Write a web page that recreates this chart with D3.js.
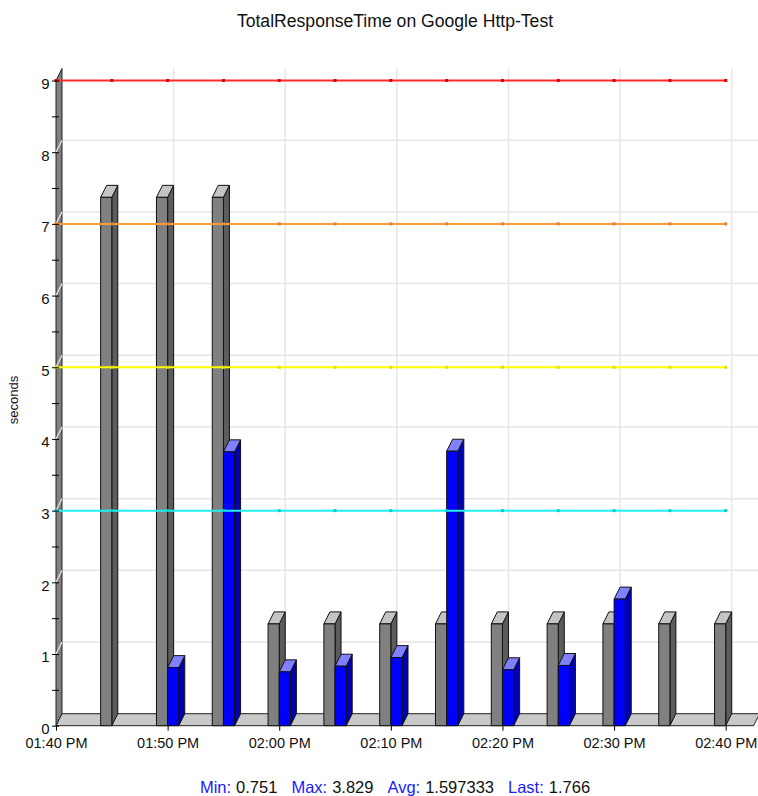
<!DOCTYPE html>
<html>
<head>
<meta charset="utf-8">
<script src="https://cdn.jsdelivr.net/npm/d3@7"></script>
<style>
  html, body { margin: 0; padding: 0; background: #fff; }
  svg { display: block; font-family: "Liberation Sans", Arial, sans-serif; }
</style>
</head>
<body>
<svg id="chart" width="758" height="796"></svg>
<script>
// Sample times (HH:MM, 24h) for each bar pair
const sampleTimes = ["13:45", "13:50", "13:55", "14:00", "14:05", "14:10",
                     "14:15", "14:20", "14:25", "14:30", "14:35", "14:40"];
// Grey series (left bar of each pair), seconds
const greyValues = [7.37, 7.37, 7.37, 1.42, 1.42, 1.42, 1.42, 1.42, 1.42, 1.42, 1.42, 1.42];
// Blue series: TotalResponseTime, seconds (null = no sample)
const blueValues = [null, 0.81, 3.82, 0.751, 0.83, 0.95, 3.829, 0.78, 0.84, 1.766, null, null];
// Threshold lines
const thresholdValues = [9, 7, 5, 3];
const thresholdColors = ["#ff2a2a", "#ff9a3c", "#ffff00", "#22f0f0"];
const thresholdDotColors = ["#e00000", "#f08020", "#e0e000", "#00d0d0"];
// Axis range
const timeStart = "13:40", timeEnd = "14:40";
const yMax = 9;
// Summary footer
const statLabels = ["Min:", "Max:", "Avg:", "Last:"];
const statValues = ["0.751", "3.829", "1.597333", "1.766"];

const parse = d3.timeParse("%H:%M");
const t0 = parse(timeStart), t1 = parse(timeEnd);

const svg = d3.select("#chart");
const DX = 6, DY = -12;   // depth offset of the 3D back plane

const x = d3.scaleTime().domain([t0, t1]).range([56, 725.7]);
const y = d3.scaleLinear().domain([0, yMax]).range([725.7, 80.5]);
const xEnd = x(d3.timeSecond.offset(t1, 150));  // floor runs a little past the last tick

// Title
svg.append("text")
  .attr("x", 395).attr("y", 26.5)
  .attr("text-anchor", "middle")
  .attr("font-size", 17.6)
  .attr("fill", "#111")
  .text("TotalResponseTime on Google Http-Test");

// Back-plane grid
const grid = svg.append("g").attr("stroke", "#e6e6e6").attr("stroke-width", 1.5);
grid.selectAll("line.h")
  .data(d3.range(1, yMax))
  .join("line")
  .attr("x1", x(t0) + DX).attr("x2", 760)
  .attr("y1", d => y(d) + DY).attr("y2", d => y(d) + DY);
grid.selectAll("line.v")
  .data(d3.timeMinute.every(10).range(d3.timeMinute.offset(t0, 1), d3.timeMinute.offset(t1, 1)))
  .join("line")
  .attr("x1", d => x(d) + DX).attr("x2", d => x(d) + DX)
  .attr("y1", y(yMax) + DY).attr("y2", y(0) + DY);

// Left wall
svg.append("path")
  .attr("d", `M${x(t0)},${y(0)} L${x(t0)},${y(yMax)} L${x(t0) + DX},${y(yMax) + DY} L${x(t0) + DX},${y(0) + DY} Z`)
  .attr("fill", "#808080").attr("stroke", "#222").attr("stroke-width", 1);
svg.append("g").attr("stroke", "#e8e8e8").attr("stroke-width", 1.2)
  .selectAll("line")
  .data(d3.range(1, yMax))
  .join("line")
  .attr("x1", x(t0)).attr("y1", d => y(d))
  .attr("x2", x(t0) + DX).attr("y2", d => y(d) + DY);

// Floor
svg.append("path")
  .attr("d", `M${x(t0)},${y(0)} L${x(t0) + DX},${y(0) + DY} L${xEnd + DX},${y(0) + DY} L${xEnd},${y(0)} Z`)
  .attr("fill", "#c8c8c8").attr("stroke", "#222").attr("stroke-width", 1);

// 3D bars
const bars = [];
sampleTimes.forEach((s, i) => {
  const t = parse(s);
  bars.push({ a: d3.timeMinute.offset(t, -1), b: t, v: greyValues[i],
              front: "#808080", side: "#5c5c5c", top: "#c4c4c4" });
  if (blueValues[i] != null)
    bars.push({ a: t, b: d3.timeMinute.offset(t, 1), v: blueValues[i],
                front: "#0000ff", side: "#0000b4", top: "#8080ff" });
});
const barG = svg.append("g").attr("stroke", "#111").attr("stroke-width", 1).attr("stroke-linejoin", "round");
bars.forEach(d => {
  const xa = x(d.a), xb = x(d.b), yt = y(d.v), yb = y(0);
  const g = barG.append("g");
  g.append("path")
    .attr("d", `M${xb},${yt} L${xb + DX},${yt + DY} L${xb + DX},${yb + DY} L${xb},${yb} Z`)
    .attr("fill", d.side);
  g.append("path")
    .attr("d", `M${xa},${yt} L${xa + DX},${yt + DY} L${xb + DX},${yt + DY} L${xb},${yt} Z`)
    .attr("fill", d.top);
  g.append("rect")
    .attr("x", xa).attr("y", yt)
    .attr("width", xb - xa).attr("height", yb - yt)
    .attr("fill", d.front);
});

// Threshold lines with markers every 5 minutes
const markTimes = d3.timeMinute.every(5).range(t0, d3.timeMinute.offset(t1, 1));
thresholdValues.forEach((v, i) => {
  svg.append("line")
    .attr("x1", x(t0)).attr("x2", x(t1))
    .attr("y1", y(v)).attr("y2", y(v))
    .attr("stroke", thresholdColors[i]).attr("stroke-width", 2);
  svg.append("g").selectAll("rect")
    .data(markTimes)
    .join("rect")
    .attr("x", d => x(d) - 1.5).attr("y", y(v) - 1.5)
    .attr("width", 3).attr("height", 3)
    .attr("fill", thresholdDotColors[i]);
});

// Y axis
const yAxis = svg.append("g")
  .attr("transform", `translate(${x(t0)},0)`)
  .call(d3.axisLeft(y)
    .tickValues(d3.range(0, yMax + 0.01, 0.5))
    .tickFormat(d => Number.isInteger(d) ? d : "")
    .tickSize(4).tickPadding(2.5));
yAxis.select(".domain").remove();
yAxis.selectAll(".tick line").attr("x1", 3).attr("stroke", "#000");
yAxis.selectAll(".tick text")
  .attr("font-size", 15).attr("font-family", "Liberation Sans, Arial, sans-serif")
  .attr("fill", "#111").attr("dy", "0.52em");

// X axis
const xAxis = svg.append("g")
  .attr("transform", `translate(0,${y(0)})`)
  .call(d3.axisBottom(x)
    .ticks(d3.timeMinute.every(10))
    .tickFormat(d3.timeFormat("%I:%M %p"))
    .tickSize(5).tickPadding(7.5));
xAxis.select(".domain").remove();
xAxis.selectAll(".tick line").attr("stroke", "#000");
xAxis.selectAll(".tick text")
  .attr("font-size", 14.5).attr("font-family", "Liberation Sans, Arial, sans-serif")
  .attr("fill", "#111");

// Y axis title
svg.append("text")
  .attr("transform", "translate(18,400) rotate(-90)")
  .attr("text-anchor", "middle")
  .attr("font-size", 13)
  .attr("fill", "#111")
  .text("seconds");

// Summary footer
const footer = svg.append("text")
  .attr("x", 395).attr("y", 793.3)
  .attr("text-anchor", "middle")
  .attr("font-size", 16.5);
statLabels.forEach((lab, i) => {
  footer.append("tspan").attr("fill", "#1a1aff").attr("dx", i === 0 ? 0 : 14).text(lab);
  footer.append("tspan").attr("fill", "#111").attr("dx", 5).text(statValues[i]);
});
</script>
</body>
</html>
